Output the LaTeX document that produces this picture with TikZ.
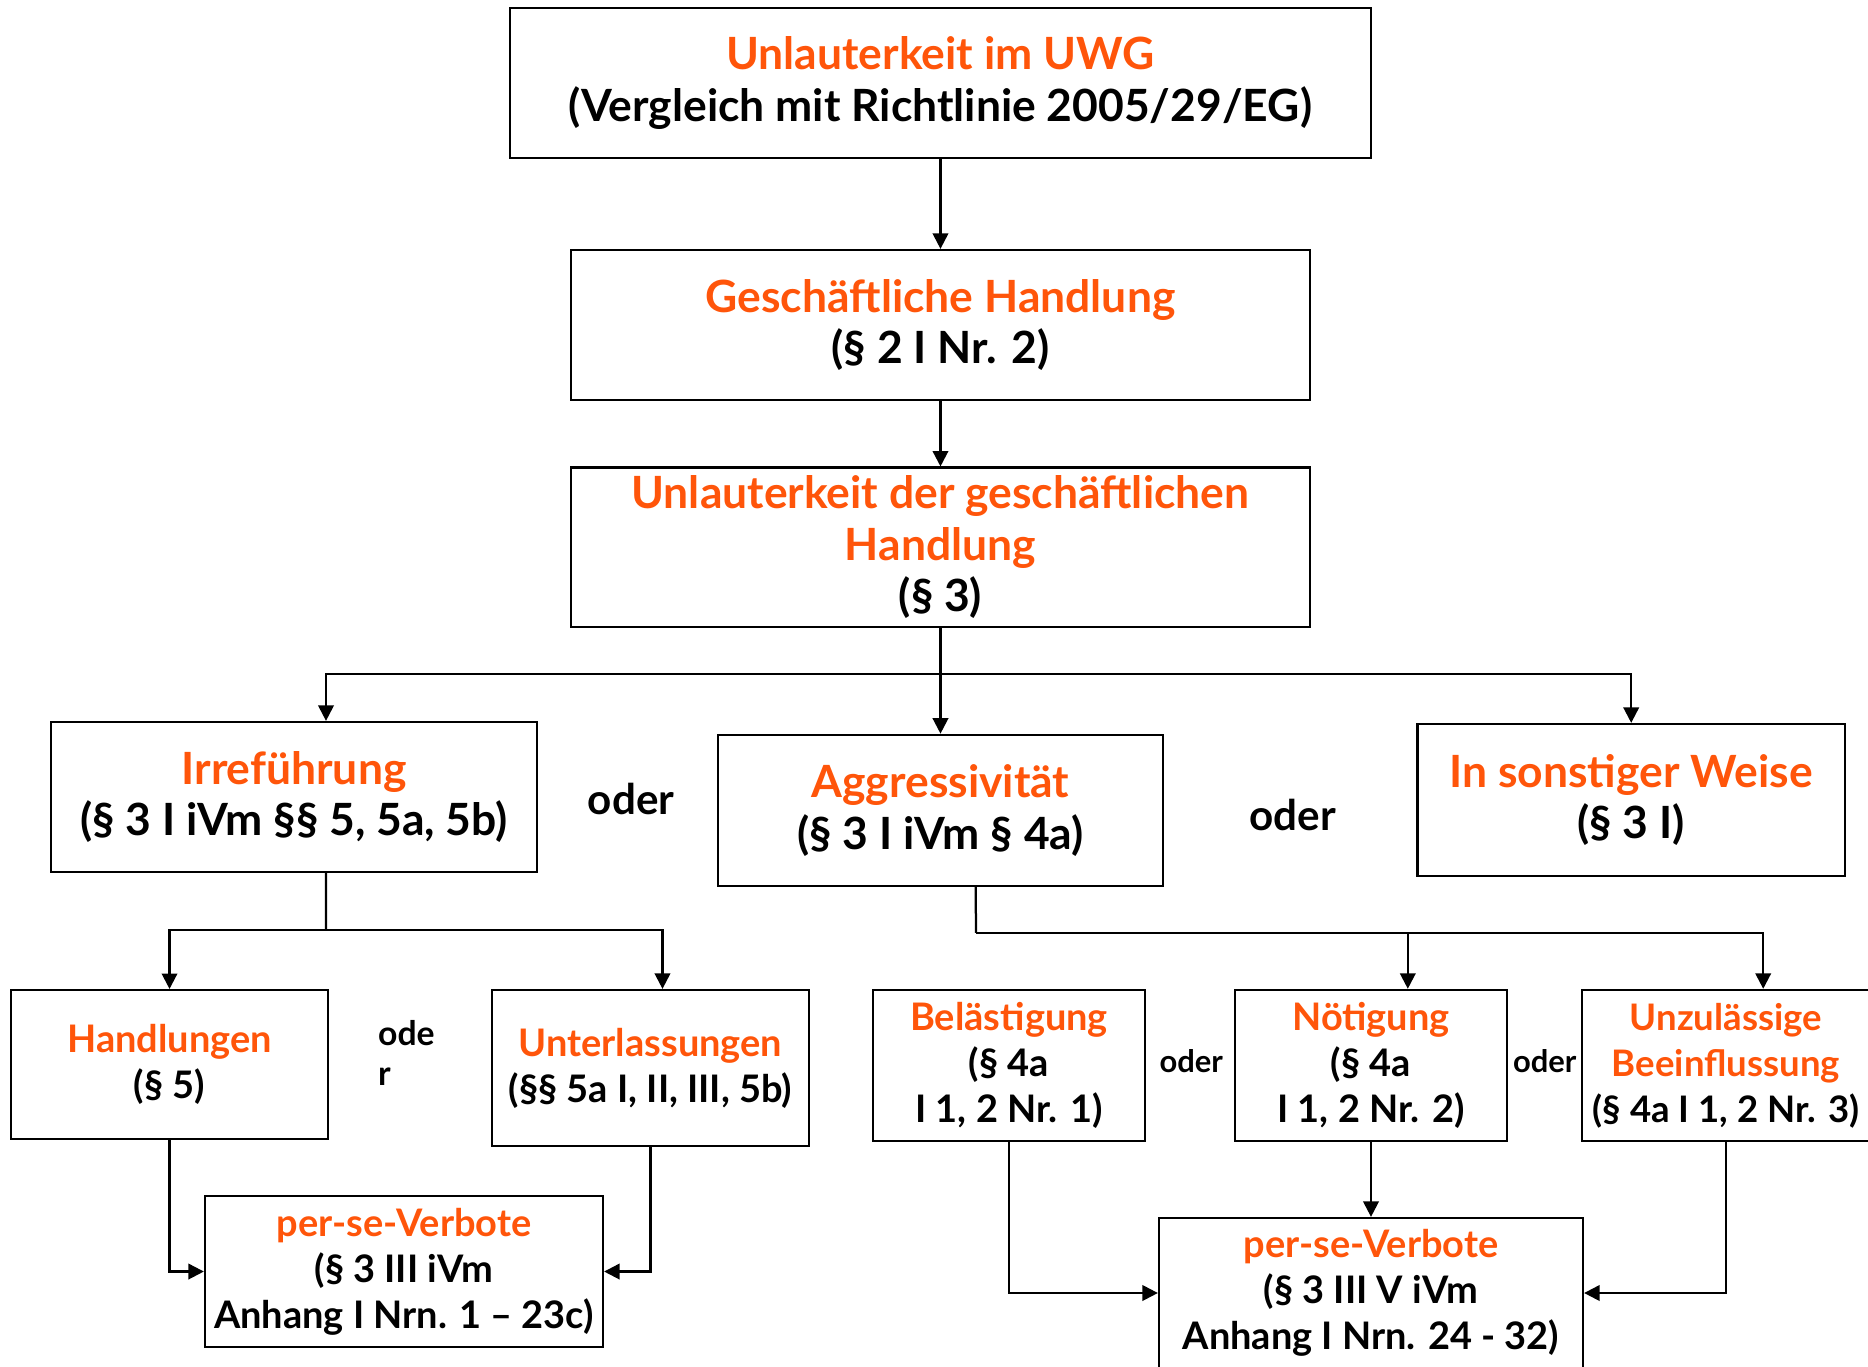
\documentclass[tikz,border=0pt]{standalone}
\usepackage{fontspec}
\setmainfont{Lato}
\usepackage{tikz}
\usetikzlibrary{arrows.meta}
\definecolor{uwgorange}{RGB}{255,85,10}
\newcommand{\hl}[1]{\textcolor{uwgorange}{#1}}

\begin{document}
\begin{tikzpicture}[main/.style = {draw, rectangle, line width=0.8pt, align=center, inner sep=0pt, font=\fontsize{15.8}{18.3}\selectfont\bfseries},
	small/.style = {main, font=\fontsize{13.5}{16.3}\selectfont\bfseries},
	arr/.style = {line width=0.8pt, -{Triangle[length=5.5pt,width=5.5pt]}},
	ln/.style = {line width=0.8pt}]
	\useasboundingbox (0,0) rectangle (23.35,-17.0875);
	\clip (0,0) rectangle (23.35,-17.0875);
	% upper chain
	\node[main, minimum width=10.76cm, minimum height=1.875cm] (UWG) at (11.756,-1.0375) {\hl{Unlauterkeit im UWG}\\(Vergleich mit Richtlinie 2005/29/EG)};
	\node[main, minimum width=9.24cm, minimum height=1.875cm] (GH) at (11.756,-4.0625) {\hl{Geschäftliche Handlung}\\(§ 2 I Nr. 2)};
	\node[main, minimum width=9.24cm, minimum height=1.99cm] (UGH) at (11.756,-6.84) {\hl{Unlauterkeit der geschäftlichen}\\\hl{Handlung}\\(§ 3)};
	% second row
	\node[main, minimum width=6.075cm, minimum height=1.875cm] (Irr) at (3.675,-9.9625) {\hl{Irreführung}\\(§ 3 I iVm §§ 5, 5a, 5b)};
	\node[main, minimum width=5.56cm, minimum height=1.89cm] (Agg) at (11.756,-10.13) {\hl{Aggressivität}\\(§ 3 I iVm § 4a)};
	\node[main, minimum width=5.34cm, minimum height=1.9cm] (Son) at (20.39,-10.0) {\hl{In sonstiger Weise}\\(§ 3 I)};
	\node[font=\fontsize{15}{18}\selectfont\bfseries] (or1) at (7.89,-9.99) {oder};
	\node[font=\fontsize{15}{18}\selectfont\bfseries] (or2) at (16.16,-10.19) {oder};
	% third row
	\node[small, minimum width=3.96cm, minimum height=1.86cm] (Hdl) at (2.119,-13.306) {\hl{Handlungen}\\(§ 5)};
	\node[small, minimum width=3.96cm, minimum height=1.95cm] (Unt) at (8.131,-13.35) {\hl{Unterlassungen}\\(§§ 5a I, II, III, 5b)};
	\node[anchor=west, align=left, inner sep=0pt, font=\fontsize{12}{14}\selectfont\bfseries] (or3) at (4.72,-13.16) {ode\\r};
	\node[small, minimum width=3.4cm, minimum height=1.89cm] (Bel) at (12.6125,-13.319) {\hl{Belästigung}\\(§ 4a\\I 1, 2 Nr. 1)};
	\node[small, minimum width=3.4cm, minimum height=1.89cm] (Noe) at (17.1375,-13.319) {\hl{Nötigung}\\(§ 4a\\I 1, 2 Nr. 2)};
	\node[small, font=\fontsize{13}{16.3}\selectfont\bfseries, minimum width=3.6cm, minimum height=1.89cm] (Unz) at (21.575,-13.319) {\hl{Unzulässige}\\\hl{Beeinflussung}\\(§ 4a I 1, 2 Nr. 3)};
	\node[font=\fontsize{11}{13}\selectfont\bfseries] (or4) at (14.89,-13.26) {oder};
	\node[font=\fontsize{11}{13}\selectfont\bfseries] (or5) at (19.31,-13.26) {oder};
	% per-se boxes
	\node[small, minimum width=4.975cm, minimum height=1.89cm] (PsL) at (5.05,-15.894) {\hl{per-se-Verbote}\\(§ 3 III iVm\\Anhang I Nrn. 1 -- 23c)};
	\node[small, minimum width=5.3cm, minimum height=1.875cm] (PsR) at (17.1375,-16.1625) {\hl{per-se-Verbote}\\(§ 3 III V iVm\\Anhang I Nrn. 24 - 32)};
	% bus points
	\coordinate (bus1) at (11.756,-8.425);
	\coordinate (bus2) at (4.075,-11.625);
	\coordinate (bus3) at (12.2,-11.66);
	\draw[arr] (UWG) -- (GH);
	\draw[arr] (GH) -- (UGH);
	\draw[arr] (UGH) -- (Agg);
	\draw[arr] (bus1) -| ([xshift=4mm]Irr.north);
	\draw[arr] (bus1) -| (Son.north);
	\draw[ln] ([xshift=4mm]Irr.south) -- (bus2);
	\draw[arr] (bus2) -| (Hdl.north);
	\draw[arr] (bus2) -| ([xshift=1.5mm]Unt.north);
	\draw[ln] ([xshift=4.4mm]Agg.south) -- (bus3);
	\draw[arr] (bus3) -| ([xshift=4.6mm]Noe.north);
	\draw[arr] (bus3) -| ([xshift=4.65mm]Unz.north);
	\draw[arr] (Hdl.south) |- (PsL.west);
	\draw[arr] (Unt.south) |- (PsL.east);
	\draw[arr] (Bel.south) |- (PsR.west);
	\draw[arr] (Noe) -- (PsR);
	\draw[arr] (Unz.south) |- (PsR.east);
\end{tikzpicture}
\end{document}
